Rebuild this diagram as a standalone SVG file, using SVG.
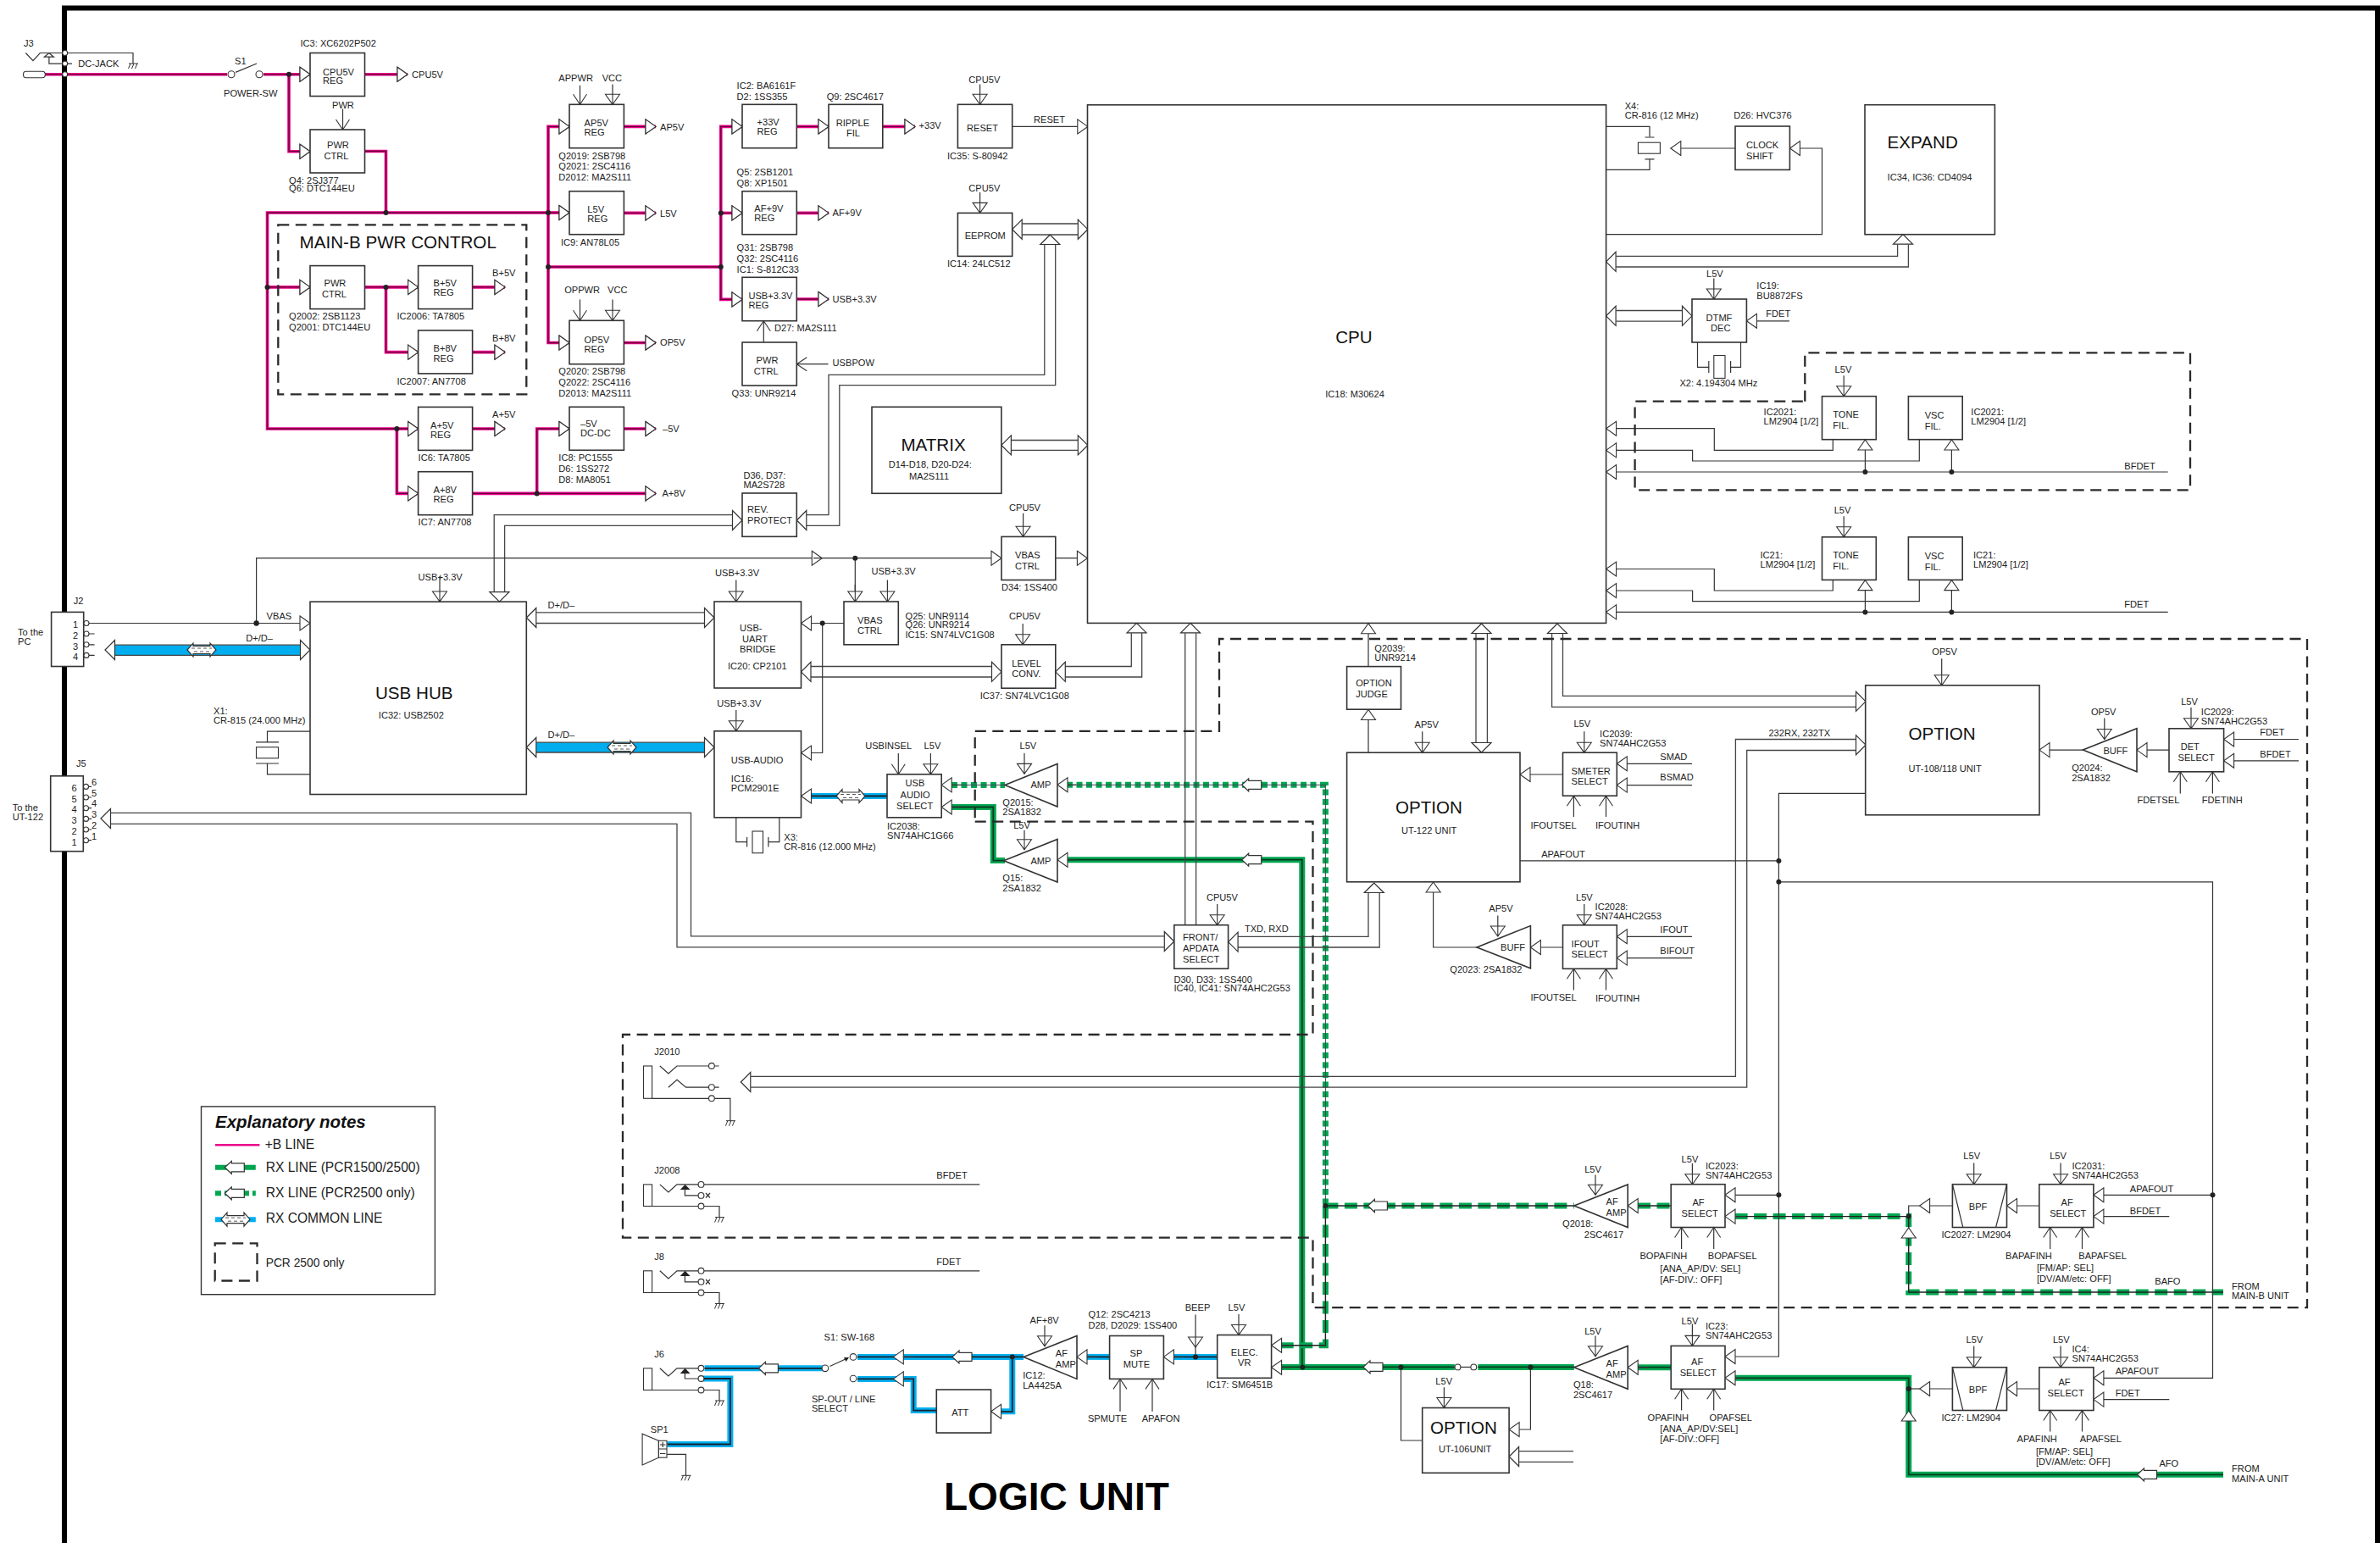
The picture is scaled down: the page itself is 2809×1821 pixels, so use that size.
<svg xmlns="http://www.w3.org/2000/svg" xmlns:xlink="http://www.w3.org/1999/xlink" width="2809" height="1821" viewBox="0 0 2809 1821">
<style>
text{font-family:"Liberation Sans",Arial,Helvetica,sans-serif;font-size:11.1px;fill:#222}
.T{font-size:20.6px;fill:#111}
.L{font-size:15.6px}
.b{fill:#fff;stroke:#333;stroke-width:1.6}
.l,.l path{fill:none;stroke:#333;stroke-width:1.2}
.bus path{fill:none;stroke:#444;stroke-width:1.3}
.c{fill:#fff;stroke:#333;stroke-width:1.1}
.d{fill:#222}
.dash{fill:none;stroke:#2a2a2a;stroke-width:2.3;stroke-dasharray:13 7.5}
.hd{fill:#fff;stroke:#333;stroke-width:1.2}
.under{fill:none}
</style>
<defs>
<marker id="t" markerUnits="userSpaceOnUse" markerWidth="16" markerHeight="22" refX="14" refY="11" orient="auto"><path d="M2,2.5L14,11L2,19.5Z" fill="#fff" stroke="#333" stroke-width="1.1"/></marker>
<marker id="s" markerUnits="userSpaceOnUse" markerWidth="16" markerHeight="22" refX="14" refY="11" orient="auto"><path d="M2,2.5L14,11L2,19.5Z M2,11H14" fill="#fff" stroke="#333" stroke-width="1.1"/></marker>
<marker id="v" markerUnits="userSpaceOnUse" markerWidth="16" markerHeight="22" refX="14" refY="11" orient="auto"><path d="M2,3L14,11L2,19" fill="none" stroke="#333" stroke-width="1.1"/></marker>
<path id="bR" class="hd" d="M0,0L-11.5,-11.5V11.5Z"/>
<path id="bL" class="hd" d="M0,0L11.5,-11.5V11.5Z"/>
<path id="bU" class="hd" d="M0,0L-11.5,11.5H11.5Z"/>
<path id="bD" class="hd" d="M0,0L-11.5,-11.5H11.5Z"/>
<path id="flag" class="hd" d="M0,0L8,-7.5V-5H23V5H8V7.5Z"/>
<g id="dbl"><path class="hd" d="M-17,0L-10,-8V-4.5H10V-8L17,0L10,8V4.5H-10V8Z"/><path fill="none" stroke="#444" stroke-width=".9" stroke-dasharray="4 3" d="M-12,-2H12M-9,2H10"/></g>
<path id="gnd" fill="none" stroke="#333" stroke-width="1" d="M-5,0H6M-5.5,6L-3,0M-1.5,6L1,0M2.5,6L5,0"/>
<g id="crys"><rect x="-13" y="-6.5" width="26" height="13" fill="#fff" stroke="#333" stroke-width="1.1"/></g>
<g id="pk" fill="none">
<path d="M53,87.8H268"/>
<g marker-end="url(#t)">
<path d="M311,87.8H366"/><path d="M341,87.8V178.7H366"/><path d="M430.5,87.8H481"/>
<path d="M647,251H315.5V506H493.6"/><path d="M315.5,338.9H366"/><path d="M430.5,338.9H493.6"/><path d="M455.5,338.9V415.6H493.6"/>
<path d="M557.6,338.9H596"/><path d="M557.6,415.6H596"/><path d="M557.6,506H596"/><path d="M468.4,506V582.4H493.6"/><path d="M557.6,582.4H774"/><path d="M633.7,582.4V506H672"/><path d="M736.4,506H774"/>
<path d="M647,251V149.4H672"/><path d="M647,251V404.5H672"/><path d="M647,251H672"/>
<path d="M736.4,149.4H774"/><path d="M736.4,251.4H774"/><path d="M736.4,404.5H774"/>
<path d="M850.8,315V149.4H876"/><path d="M850.8,315V353.4H876"/><path d="M850.8,251.4H876"/>
<path d="M940.3,149.4H978"/><path d="M1041.8,149.4H1080"/><path d="M940.3,251.4H978"/><path d="M940.3,353H978"/>
</g>
<path d="M430.5,178.5H455.5V251"/><path d="M647,315H850.8"/>
</g>
<g id="gs" fill="none">
<path d="M1123,952.5H1172.3V1015.6H1186"/><path d="M1259,1014.7H1536.8V1613.4"/><path d="M1512,1613.4H1716.8"/><path d="M1744.4,1613.4H1857.8"/><path d="M1933,1613.7H1972.2"/><path d="M2047.6,1626.3H2252.7V1740.3H2624"/>
</g>
<g id="gd1" fill="none"><path d="M1123,926.4H1186"/><path d="M1259,926.3H1564.4V1423"/></g>
<g id="gd2" fill="none"><path d="M1564.4,1423H1857.8"/><path d="M1933,1423H1972.2"/><path d="M2047.6,1435.6H2252.7V1525H2624"/><path d="M1564.4,1423V1587.8H1512"/></g>
<g id="bl" fill="none"><path d="M957.4,939.5H1047"/><path d="M831.6,1614.8H973.9"/><path d="M830,1627H861.9V1704.5H787.5"/><path d="M1012,1601.4H1208"/><path d="M1194.8,1601.4V1665.8H1181.5"/><path d="M1105.3,1664.6H1078.2V1627.4H1012"/><path d="M1283,1601.4H1309.6"/><path d="M1385,1601.4H1436.7"/></g>
</defs>

<rect width="2809" height="1821" fill="#fff"/>
<path id="frame" d="M76,1821V9.5H2806V1821" fill="none" stroke="#000" stroke-width="6"/>

<g id="connectors">
<use href="#pk" stroke="#ec008c" stroke-width="3.6"/>
<use href="#pk" stroke="#6a0038" stroke-width="1.3"/>
<rect x="136" y="761.2" width="218.5" height="12.2" fill="#00aeef"/>
<rect x="632.8" y="876.2" width="198.8" height="11.8" fill="#00aeef"/>
<use href="#bl" stroke="#00aeef" stroke-width="7"/>
<use href="#bl" stroke="#16222e" stroke-width="1.8"/>
<use href="#gs" stroke="#00a651" stroke-width="7"/>
<use href="#gs" stroke="#0a3b22" stroke-width="1.8"/>
<use href="#gd1" stroke="#00a651" stroke-width="7" stroke-dasharray="7 4.5"/>
<use href="#gd1" stroke="#445" stroke-width="1"/>
<use href="#gd2" stroke="#00a651" stroke-width="7" stroke-dasharray="15 7.5"/>
<use href="#gd2" stroke="#222" stroke-width="1.4"/>

<g class="bus">
<path d="M1206,264H1272"/><path d="M1206,277H1272"/>
<path d="M1232.8,288V442.4H978V607.6H951"/><path d="M1245.7,288V454.6H990.8V620.3H951"/>
<path d="M583.2,698.3V607.6H864.5"/><path d="M595.6,698.3V620.3H864.5"/>
<path d="M632.8,722.8H831.5"/><path d="M632.8,735.5H831.5"/>
<path d="M136,761.2H354.5"/><path d="M136,773.4H354.5"/>
<path d="M632.8,876.2H831.5"/><path d="M632.8,888H831.5"/>
<path d="M957,786.5H1170.5"/><path d="M957,799H1170.5"/>
<path d="M1257.3,786.5H1335.3V747.3"/><path d="M1257.3,799H1347.7V747.3"/>
<path d="M1398.7,747.3V1091.7"/><path d="M1411.6,747.3V1091.7"/>
<path d="M130.4,959.3H815.5V1104.8H1374"/><path d="M130.4,972.3H799V1117.8H1374"/>
<path d="M1461,1105.3H1615V1053.5"/><path d="M1461,1118H1628.2V1053.5"/>
<path d="M1742,747.4V876.7"/><path d="M1755.4,747.4V876.7"/>
<path d="M1831.6,747.4V834.4H2190.4"/><path d="M1844.5,747.4V821.4H2190.4"/>
<path d="M2190.4,872.5H2048.4V1270.4H886.2"/><path d="M2190.4,885.5H2061.7V1283.2H886.2"/>
<path d="M1193.4,519.5H1272.3"/><path d="M1193.4,531.3H1272.3"/>
<path d="M1907.5,302.4H2239.6V288.6"/><path d="M1907.5,315H2252.4V288.6"/>
<path d="M1907.5,366.5H1985.5"/><path d="M1907.5,379.2H1985.5"/>
<path d="M1792.6,1712.7H1857"/><path d="M1792.6,1725.3H1857"/>
</g>
<g id="bus-heads">
<use href="#bL" x="1194.7" y="270.7"/><use href="#bR" x="1283.8" y="270.7"/><use href="#bU" x="1239.3" y="277"/>
<use href="#bL" x="940.3" y="614"/><use href="#bR" x="876" y="614"/><use href="#bD" x="589.4" y="710.2"/>
<use href="#bL" x="621.3" y="729"/><use href="#bR" x="843" y="729"/>
<use href="#bL" x="124" y="767"/><use href="#bR" x="366" y="767"/>
<use href="#bL" x="621.3" y="882"/><use href="#bR" x="843" y="882"/>
<use href="#bL" x="945.5" y="792.8"/><use href="#bR" x="1182" y="792.8"/>
<use href="#bL" x="1245.8" y="792.8"/><use href="#bU" x="1341.5" y="735.4"/><use href="#bU" x="1405" y="735.4"/>
<use href="#bL" x="119" y="966"/><use href="#bR" x="1385.8" y="1111"/>
<use href="#bL" x="1449.6" y="1111.6"/><use href="#bU" x="1621.8" y="1042"/>
<use href="#bU" x="1748.5" y="736"/><use href="#bD" x="1748.5" y="888"/>
<use href="#bU" x="1838" y="736"/><use href="#bR" x="2202" y="827.8"/>
<use href="#bR" x="2202" y="879.2"/><use href="#bL" x="874.3" y="1277"/>
<use href="#bL" x="1181.9" y="525.4"/><use href="#bR" x="1283.8" y="525.4"/>
<use href="#bL" x="1895.6" y="308.8"/><use href="#bU" x="2246" y="276.7"/>
<use href="#bL" x="1895.6" y="372.8"/><use href="#bR" x="1997" y="372.8"/>
<use href="#bL" x="1781.1" y="1719"/>
<use href="#flag" x="1465.7" y="926.3"/><use href="#flag" x="1465.7" y="1014.7"/><use href="#flag" x="1614.4" y="1423"/><use href="#flag" x="1609" y="1613.4"/><use href="#flag" x="2522.5" y="1740.3"/>
<use href="#flag" x="895.4" y="1614.8"/><use href="#flag" x="1124" y="1601.4"/>
<use href="#dbl" x="238" y="767"/><use href="#dbl" x="734" y="882"/><use href="#dbl" x="1004" y="939.5"/>
</g>

<g class="l">
<path d="M2099.4,1015.9H1794"/><path d="M2265.6,1423H2252.7V1435.6"/><path d="M2265.6,1639H2252.7"/>
<path d="M1653.5,1613.4V1700H1678.7"/>
<path d="M1411,1590V1601"/>
<path d="M1009.3,658.7V700"/>
<path d="M1720.5,1613.4H1739.3"/>
<path d="M1895.6,149.4H1947V161.3M1941.5,162H1952.5M1941.5,187.8H1952.5M1947,187.8V200.4H1895.6"/>
<path d="M366,863.2H315.5V875.8M302,875.8H329M302,901H329M315.5,901V913.8H366"/>
<path d="M2003.5,404V433.3H2016.8M2016.8,426V440M2042.6,426V440M2042.6,433.3H2054.5V404"/>
<path d="M868.8,964.8V993.7H881.6M881.6,988V999.6M906.9,988V999.6M906.9,993.7H919.8V964.8"/>
<g marker-end="url(#t)">
<path d="M1194.7,149.4H1283.8"/>
<path d="M302.6,735.5V658.7H970.3"/><path d="M960,658.7H1182"/><path d="M1245.8,658.7H1283.4"/>
<path d="M105,735.5H366"/><path d="M996,735.5H945.5"/><path d="M970.7,735.5V888.5H945.5"/>
<path d="M2048,175H1971.8"/><path d="M1895.6,276.7H2150.5V175H2112.4"/>
<path d="M2111.9,378.8H2061.4"/>
<path d="M2163.3,518.7V531.4H2023.3V505.7H1895.6"/><path d="M2265.3,518.7V544H1997.6V531.4H1895.6"/><path d="M2558.7,557H1895.6"/><path d="M2201.4,557V519"/><path d="M2303.4,557V519"/>
<path d="M2163.3,684.4V697H2023.3V671.5H1895.6"/><path d="M2265.3,684.4V709.7H1997.6V697H1895.6"/><path d="M2558.7,722.4H1895.6"/><path d="M2201.4,722.4V684.6"/><path d="M2303.4,722.4V684.6"/>
<path d="M1615,888.2V837.5"/><path d="M1615,786.6V735.8"/>
<path d="M1844.5,914H1794"/><path d="M1997,901.3H1908.3"/><path d="M1997,926.6H1908.3"/>
<path d="M1997,1105.3H1908.3"/><path d="M1997,1130.6H1908.3"/><path d="M1844.5,1118H1806.4"/><path d="M1743,1118H1691.6V1041"/>
<path d="M2201.7,936.3H2099.4V1601H2036"/><path d="M2099.4,1410.3H2036"/><path d="M2099.4,1040.8H2611.5V1626.3H2470.9"/><path d="M2611.5,1410.3H2470.9"/>
<path d="M2458.4,885.1H2407"/><path d="M2560,885.1H2522"/><path d="M2713,872.5H2624.6"/><path d="M2713,897.8H2624.6"/>
<path d="M2304.4,1423H2265.6"/><path d="M2406.8,1423H2368.5"/><path d="M2406.8,1639H2368.5"/><path d="M2304.4,1639H2265.6"/><path d="M2560.3,1435.6H2470.9"/><path d="M2560.3,1651.6H2470.9"/>
<path d="M2252.7,1461V1449"/><path d="M2252.7,1677V1665"/>
<path d="M1806.4,1613.4V1687H1781.1"/>
<path d="M1135,926.4H1111.2"/><path d="M1135,952.5H1111.2"/><path d="M1270,926.3H1248"/><path d="M1270,1014.7H1248"/><path d="M1524,1587.8H1500.6"/><path d="M1524,1613.7H1500.6"/><path d="M1945,1423H1921.2"/><path d="M1945,1613.7H1921.2"/><path d="M2060,1435.6H2036"/><path d="M2060,1626.3H2036"/>
<path d="M1078,1601.4H1054.3"/><path d="M1078,1627.4H1054.3"/><path d="M1194,1665.8H1169.6"/><path d="M1295,1601.4H1271"/><path d="M1397,1601.4H1373.4"/><path d="M970,939.5H945.5"/>
</g>
<g marker-end="url(#s)">
<path d="M723,99.5V123.3"/><path d="M723,353.4V378.3"/><path d="M1156.6,99.5V123.3"/><path d="M1156.6,227V251.4"/><path d="M1207.6,605.7V633.3"/><path d="M868.8,684.5V710"/><path d="M519,680V710"/><path d="M1047.4,684.5V710"/><path d="M1009.3,690V710"/><path d="M868.8,838V862.8"/><path d="M1098.4,888.9V913.8"/><path d="M1207.2,735.9V760.8"/><path d="M1209,888.9V913.4"/><path d="M1209,979.8V1002.7"/><path d="M1436.7,1067V1091.8"/><path d="M1678.7,863.3V888.2"/><path d="M1869.8,863.3V888.2"/><path d="M1869.8,1067V1091.8"/><path d="M1767.8,1080.4V1105"/><path d="M2291.7,777.2V808.8"/><path d="M2483.8,847.5V872.5"/><path d="M2586,834.9V859.8"/><path d="M2022.8,328.5V353"/><path d="M2176.2,443.2V467.7"/><path d="M2176.2,609.3V633.8"/><path d="M1233,1564.2V1588.7"/><path d="M1411,1551.6V1590"/><path d="M1462,1551V1575.5"/><path d="M1883,1386.4V1410.3"/><path d="M1997.4,1373V1397.7"/><path d="M2329.7,1372.4V1397.7"/><path d="M2432.1,1372.4V1397.7"/><path d="M1883,1576.5V1600.7"/><path d="M1997.4,1562.5V1588.4"/><path d="M2329.7,1588.4V1613.7"/><path d="M2432.1,1588.4V1613.7"/><path d="M1704.4,1637.3V1661.5"/>
</g>
<g marker-end="url(#v)">
<path d="M404.5,128.5V153"/><path d="M684.5,100.7V123.3"/><path d="M684.5,353.4V378.3"/><path d="M901.3,404V378.7"/><path d="M977.5,429.7H940.3"/><path d="M1060.3,888.9V913.8"/><path d="M1857.4,964V939.2"/><path d="M1895.5,964V939.2"/><path d="M1857.4,1168.5V1143.3"/><path d="M1895.5,1168.5V1143.3"/><path d="M2573.3,936.5V910.8"/><path d="M2611.4,936.5V910.8"/><path d="M1322,1665.8V1627.4"/><path d="M1360,1665.8V1627.4"/><path d="M1984.6,1474V1448.5"/><path d="M2022.7,1474V1448.5"/><path d="M2419.7,1474V1448.5"/><path d="M2457.5,1474V1448.5"/><path d="M1984.6,1664.5V1639.3"/><path d="M2022.7,1664.5V1639.3"/><path d="M2419.7,1689.5V1664.5"/><path d="M2457.5,1689.5V1664.5"/>
</g>
</g>
<g id="junctions">
<circle class="d" cx="341" cy="87.8" r="3"/><circle class="d" cx="455.5" cy="251" r="3"/><circle class="d" cx="315.5" cy="338.9" r="3"/><circle class="d" cx="455.5" cy="338.9" r="3"/><circle class="d" cx="468.4" cy="506" r="3"/><circle class="d" cx="633.7" cy="582.4" r="3"/><circle class="d" cx="647" cy="251" r="3"/><circle class="d" cx="647" cy="315" r="3"/><circle class="d" cx="850.8" cy="251.4" r="3"/><circle class="d" cx="850.8" cy="315" r="3"/>
<circle class="d" cx="302.6" cy="735.5" r="3.2"/><circle class="d" cx="1009.3" cy="658.7" r="3"/><circle class="d" cx="970.7" cy="735.5" r="3"/>
<circle class="d" cx="2201.4" cy="557" r="3"/><circle class="d" cx="2303.4" cy="557" r="3"/><circle class="d" cx="2201.4" cy="722.4" r="3"/><circle class="d" cx="2303.4" cy="722.4" r="3"/>
<circle class="d" cx="2099.4" cy="1015.9" r="3"/><circle class="d" cx="2099.4" cy="1040.8" r="3"/><circle class="d" cx="2099.4" cy="1410.3" r="3"/><circle class="d" cx="2611.5" cy="1410.3" r="3"/>
<circle class="d" cx="1564.4" cy="1423" r="3"/><circle class="d" cx="2252.7" cy="1435.6" r="3"/><circle class="d" cx="2252.7" cy="1639" r="3"/>
<circle class="d" cx="1537.3" cy="1613.4" r="3"/><circle class="d" cx="1653.5" cy="1613.4" r="3"/><circle class="d" cx="1806.4" cy="1613.4" r="3"/>
<circle class="d" cx="1194.8" cy="1601.4" r="3"/><circle class="d" cx="1411" cy="1601.4" r="3"/>
<circle class="c" cx="1720.5" cy="1613.4" r="3.4"/><circle class="c" cx="1739.3" cy="1613.4" r="3.4"/>
</g>
</g>

<g id="pcr2500-regions">
<rect class="dash" x="328.3" y="265.3" width="293" height="200"/>
<path class="dash" d="M2130.3,473.7V416.3H2585V578.4H1929.6V473.7Z"/>
<path class="dash" d="M1150.7,969.7H1549.5V1221H735V1460.6H1549.5V1543.2H2723V754H1439V862.8H1150.7Z"/>
</g>

<g id="J3">
<path class="l" d="M30.3,62.5L39,71.6L47.3,62.5H157V75M57.9,67.2V75.1H73.5M80,75.1H85M52.3,67.2L57.9,62.5L63.4,67.2Z"/>
<use href="#gnd" x="157" y="75"/>
<rect x="27.5" y="84.2" width="25.8" height="7.5" rx="3.5" class="c"/>
<circle class="c" cx="76.7" cy="62.5" r="3"/><circle class="c" cx="76.7" cy="75.1" r="3"/><circle class="c" cx="76.7" cy="87.8" r="3"/>
<text x="28" y="55.4">J3</text><text x="92.3" y="79.1">DC-JACK</text>
</g>
<g id="S1"><circle class="c" cx="273" cy="87.8" r="4"/><circle class="c" cx="306" cy="87.8" r="4"/><path class="l" d="M278,85.4L303,75"/><text x="277" y="75.5">S1</text><text x="264" y="113.9">POWER-SW</text></g>
<g id="cpu5v-reg"><rect class="b" x="366" y="62.5" width="64.5" height="51"/><text x="381" y="88.6">CPU5V</text><text x="381" y="99">REG</text><text x="354.5" y="55">IC3: XC6202P502</text><text x="486" y="92">CPU5V</text></g>
<g id="pwr-ctrl-1"><rect class="b" x="366" y="153" width="64.5" height="51"/><text x="392" y="128">PWR</text><text x="386" y="175">PWR</text><text x="382.5" y="187.8">CTRL</text><text x="341" y="216.7">Q4: 2SJ377</text><text x="341" y="226.2">Q6: DTC144EU</text></g>
<g id="main-b-title"><text class="T" x="353.6" y="293.4">MAIN-B PWR CONTROL</text></g>
<g id="pwr-ctrl-b"><rect class="b" x="366" y="313.6" width="64.5" height="51"/><text x="382.5" y="338">PWR</text><text x="380" y="351">CTRL</text><text x="341" y="376.8">Q2002: 2SB1123</text><text x="341" y="389.9">Q2001: DTC144EU</text></g>
<g id="b5v-reg"><rect class="b" x="493.6" y="313.6" width="64" height="51"/><text x="511.5" y="338">B+5V</text><text x="511.5" y="348.7">REG</text><text x="581" y="325.8">B+5V</text><text x="468.4" y="376.8">IC2006: TA7805</text></g>
<g id="b8v-reg"><rect class="b" x="493.6" y="389.9" width="64" height="51"/><text x="511.5" y="415">B+8V</text><text x="511.5" y="426.6">REG</text><text x="581" y="402.9">B+8V</text><text x="468.4" y="453.9">IC2007: AN7708</text></g>
<g id="a5v-reg"><rect class="b" x="493.6" y="480.4" width="64" height="51"/><text x="508" y="506">A+5V</text><text x="508" y="516.8">REG</text><text x="581" y="493">A+5V</text><text x="493.6" y="543.7">IC6: TA7805</text></g>
<g id="a8v-reg"><rect class="b" x="493.6" y="556.7" width="64" height="51"/><text x="511.5" y="582">A+8V</text><text x="511.5" y="592.7">REG</text><text x="493.6" y="619.6">IC7: AN7708</text><text x="781.4" y="586.3">A+8V</text></g>
<g id="ap5v-reg"><rect class="b" x="672" y="123.3" width="64.4" height="51.4"/><text x="689.6" y="149">AP5V</text><text x="689.6" y="159.6">REG</text><text x="659.3" y="95.6">APPWR</text><text x="710.7" y="95.6">VCC</text><text x="779" y="153.7">AP5V</text><text x="659.3" y="187.7">Q2019: 2SB798</text><text x="659.3" y="200">Q2021: 2SC4116</text><text x="659.3" y="212.6">D2012: MA2S111</text></g>
<g id="l5v-reg"><rect class="b" x="672" y="225.7" width="64.4" height="51"/><text x="693.3" y="251.4">L5V</text><text x="693.3" y="262">REG</text><text x="779" y="255.7">L5V</text><text x="662" y="289.7">IC9: AN78L05</text></g>
<g id="op5v-reg"><rect class="b" x="672" y="378.3" width="64.4" height="51.4"/><text x="689.6" y="405">OP5V</text><text x="689.6" y="415.9">REG</text><text x="666.2" y="345.9">OPPWR</text><text x="717.1" y="345.9">VCC</text><text x="779" y="408">OP5V</text><text x="659.3" y="441.6">Q2020: 2SB798</text><text x="659.3" y="454.6">Q2022: 2SC4116</text><text x="659.3" y="467.7">D2013: MA2S111</text></g>
<g id="dcdc"><rect class="b" x="672" y="480.3" width="64.4" height="51"/><text x="685" y="503.6">–5V</text><text x="685" y="514.7">DC-DC</text><text x="782" y="510">–5V</text><text x="659.3" y="544">IC8: PC1555</text><text x="659.3" y="557">D6: 1SS272</text><text x="659.3" y="570">D8: MA8051</text></g>
<g id="r33v-reg"><rect class="b" x="876" y="123.3" width="64.3" height="51.4"/><text x="893.5" y="147.8">+33V</text><text x="893.5" y="158.9">REG</text><text x="869.6" y="104.7">IC2: BA6161F</text><text x="869.6" y="117.7">D2: 1SS355</text></g>
<g id="ripple"><rect class="b" x="978" y="123.3" width="63.8" height="51.4"/><text x="986.7" y="149">RIPPLE</text><text x="999" y="160.8">FIL</text><text x="975.7" y="117.7">Q9: 2SC4617</text><text x="1084.5" y="151.7">+33V</text></g>
<g id="af9v-reg"><rect class="b" x="876" y="225.7" width="64.3" height="51"/><text x="890.3" y="250">AF+9V</text><text x="890.3" y="260.9">REG</text><text x="982.6" y="255">AF+9V</text><text x="869.6" y="206.7">Q5: 2SB1201</text><text x="869.6" y="219.7">Q8: XP1501</text></g>
<g id="usb33-reg"><rect class="b" x="876" y="327.3" width="64.3" height="51.4"/><text x="883.4" y="353">USB+3.3V</text><text x="883.4" y="364">REG</text><text x="982.6" y="357">USB+3.3V</text><text x="869.6" y="295.7">Q31: 2SB798</text><text x="869.6" y="308.7">Q32: 2SC4116</text><text x="869.6" y="321.8">IC1: S-812C33</text><text x="914" y="391.3">D27: MA2S111</text></g>
<g id="pwr-ctrl-usb"><rect class="b" x="876" y="404" width="64.3" height="51"/><text x="892.6" y="428.9">PWR</text><text x="889.8" y="442">CTRL</text><text x="982.6" y="431.7">USBPOW</text><text x="863.6" y="467.7">Q33: UNR9214</text></g>
<g id="reset"><rect class="b" x="1130.4" y="123.3" width="64.3" height="51.4"/><text x="1141" y="154.9">RESET</text><text x="1143.3" y="97.6">CPU5V</text><text x="1220" y="145">RESET</text><text x="1118" y="187.7">IC35: S-80942</text></g>
<g id="eeprom"><rect class="b" x="1130.4" y="251.4" width="64.3" height="51"/><text x="1138.7" y="281.8">EEPROM</text><text x="1143.3" y="225.7">CPU5V</text><text x="1118" y="315">IC14: 24LC512</text></g>
<g id="matrix"><rect class="b" x="1029" y="480.3" width="152.9" height="102"/><text class="T" x="1063.4" y="531.7">MATRIX</text><text x="1048.7" y="551.5">D14-D18, D20-D24:</text><text x="1073" y="565.7">MA2S111</text></g>
<g id="rev-protect"><rect class="b" x="876" y="582" width="64.3" height="51.3"/><text x="882" y="604.9">REV.</text><text x="882" y="617.5">PROTECT</text><text x="877.4" y="565">D36, D37:</text><text x="877.4" y="575.6">MA2S728</text></g>
<g id="cpu"><rect class="b" x="1283.5" y="123.8" width="612.1" height="611.6"/><text class="T" x="1598" y="404.6" text-anchor="middle">CPU</text><text x="1599" y="468.5" text-anchor="middle">IC18: M30624</text></g>
<g id="x4"><use href="#crys" x="1946.4" y="174.7"/><text x="1917.7" y="128.5">X4:</text><text x="1917.7" y="139.5">CR-816 (12 MHz)</text></g>
<g id="clock-shift"><rect class="b" x="2048" y="149" width="64.4" height="51.4"/><text x="2061" y="175">CLOCK</text><text x="2061" y="187.8">SHIFT</text><text x="2046.2" y="139.5">D26: HVC376</text></g>
<g id="expand"><rect class="b" x="2201" y="123.7" width="153.4" height="153"/><text class="T" x="2227.6" y="175.1">EXPAND</text><text x="2227.6" y="213">IC34, IC36: CD4094</text></g>
<g id="dtmf"><rect class="b" x="1997" y="353" width="64.4" height="51"/><text x="2013.6" y="379">DTMF</text><text x="2019" y="391">DEC</text><text x="2014" y="327">L5V</text><text x="2073.3" y="340.8">IC19:</text><text x="2073.3" y="353">BU8872FS</text><text x="2084.3" y="374">FDET</text><rect x="2022.8" y="419.5" width="13.2" height="26.9" fill="#fff" stroke="#333" stroke-width="1.1"/><text x="1982.4" y="455.5">X2: 4.194304 MHz</text></g>
<g id="tone-fil-2021"><rect class="b" x="2150.5" y="467.7" width="63.8" height="51"/><text x="2163.3" y="493">TONE</text><text x="2163.3" y="506">FIL.</text><text x="2165.6" y="439.7">L5V</text><text x="2081.6" y="489.5">IC2021:</text><text x="2081.6" y="500.5">LM2904 [1/2]</text></g>
<g id="vsc-fil-2021"><rect class="b" x="2252.4" y="467.7" width="63.8" height="51"/><text x="2271.7" y="493.8">VSC</text><text x="2271.7" y="507.3">FIL.</text><text x="2326.3" y="489.5">IC2021:</text><text x="2326.3" y="500.5">LM2904 [1/2]</text><text x="2507.3" y="553.5">BFDET</text></g>
<g id="tone-fil-21"><rect class="b" x="2150.5" y="633.8" width="63.8" height="50.6"/><text x="2163.3" y="658.7">TONE</text><text x="2163.3" y="671.8">FIL.</text><text x="2164.7" y="606">L5V</text><text x="2077.5" y="658.7">IC21:</text><text x="2077.5" y="669.8">LM2904 [1/2]</text></g>
<g id="vsc-fil-21"><rect class="b" x="2252.4" y="633.8" width="63.8" height="50.6"/><text x="2271.7" y="659.9">VSC</text><text x="2271.7" y="673">FIL.</text><text x="2329" y="658.7">IC21:</text><text x="2329" y="669.8">LM2904 [1/2]</text><text x="2507.3" y="717.2">FDET</text></g>
<g id="J2"><rect class="b" x="60.6" y="722.4" width="38.1" height="64.1"/><text x="86.8" y="713">J2</text><text x="85.9" y="741">1</text><text x="85.9" y="753.6">2</text><text x="85.9" y="766.7">3</text><text x="85.9" y="779">4</text><text x="21" y="750">To the</text><text x="21" y="760.8">PC</text><path class="l" d="M105,748H111.6M105,760.8H111.6M105,773.4H111.6"/><circle class="c" cx="102" cy="735.5" r="3"/><circle class="c" cx="102" cy="748" r="3"/><circle class="c" cx="102" cy="760.8" r="3"/><circle class="c" cx="102" cy="773.4" r="3"/><text x="314.6" y="730.7">VBAS</text><text x="290.2" y="757.2">D+/D–</text></g>
<g id="J5"><rect class="b" x="59.7" y="915.8" width="38.6" height="88.9"/><text x="90" y="905">J5</text><text x="84.5" y="934">6</text><text x="84.5" y="947">5</text><text x="84.5" y="958.5">4</text><text x="84.5" y="971.5">3</text><text x="84.5" y="984.6">2</text><text x="84.5" y="997.6">1</text><text x="14.7" y="956.9">To the</text><text x="14.7" y="968">UT-122</text><path class="l" d="M104,928.4H108M104,941H108M104,953.7H108M104,966.4H108M104,979H108M104,991.7H108"/><circle class="c" cx="101.5" cy="928.4" r="3"/><circle class="c" cx="101.5" cy="941" r="3"/><circle class="c" cx="101.5" cy="953.7" r="3"/><circle class="c" cx="101.5" cy="966.4" r="3"/><circle class="c" cx="101.5" cy="979" r="3"/><circle class="c" cx="101.5" cy="991.7" r="3"/><text x="108" y="926.8">6</text><text x="108" y="939.5">5</text><text x="108" y="952">4</text><text x="108" y="964.8">3</text><text x="108" y="977.8">2</text><text x="108" y="990.5">1</text></g>
<g id="usb-hub"><rect class="b" x="366" y="710.2" width="255.3" height="227.3"/><text class="T" x="443" y="824.8">USB HUB</text><text x="446.8" y="848">IC32: USB2502</text><text x="493.6" y="684.8">USB+3.3V</text><text x="646.5" y="718">D+/D–</text><text x="646.5" y="871">D+/D–</text></g>
<g id="x1"><use href="#crys" x="315.5" y="888.3"/><text x="252" y="842.6">X1:</text><text x="252" y="853.7">CR-815 (24.000 MHz)</text></g>
<g id="usb-uart"><rect class="b" x="843" y="710" width="102.5" height="102"/><text x="873" y="745">USB-</text><text x="876" y="758">UART</text><text x="873" y="769.9">BRIDGE</text><text x="859" y="790">IC20: CP2101</text><text x="844" y="680">USB+3.3V</text></g>
<g id="vbas-ctrl-2"><rect class="b" x="996" y="710" width="64.3" height="50.8"/><text x="1012" y="736">VBAS</text><text x="1012" y="748">CTRL</text><text x="1028.6" y="677.7">USB+3.3V</text><text x="1068.5" y="730.7">Q25: UNR9114</text><text x="1068.5" y="741.4">Q26: UNR9214</text><text x="1068.5" y="752.5">IC15: SN74LVC1G08</text></g>
<g id="vbas-ctrl-1"><rect class="b" x="1182" y="633.4" width="63.8" height="51.1"/><text x="1198" y="658.7">VBAS</text><text x="1198" y="671.8">CTRL</text><text x="1191" y="603.3">CPU5V</text><text x="1182" y="697">D34: 1SS400</text></g>
<g id="level-conv"><rect class="b" x="1182" y="760.8" width="63.8" height="51.4"/><text x="1194.3" y="786.9">LEVEL</text><text x="1194.3" y="799">CONV.</text><text x="1191" y="730.7">CPU5V</text><text x="1156.7" y="824.8">IC37: SN74LVC1G08</text></g>
<g id="usb-audio"><rect class="b" x="843" y="862.8" width="102.5" height="102"/><text x="862.8" y="900.7">USB-AUDIO</text><text x="862.8" y="922.5">IC16:</text><text x="862.8" y="933.6">PCM2901E</text><text x="846.3" y="833.5">USB+3.3V</text><rect x="888" y="981" width="12.5" height="25.7" fill="#fff" stroke="#333" stroke-width="1.1"/><text x="925.3" y="992">X3:</text><text x="925.3" y="1002.7">CR-816 (12.000 MHz)</text></g>
<g id="usb-audio-select"><rect class="b" x="1047" y="913.8" width="64.2" height="51"/><text x="1068.5" y="928.4">USB</text><text x="1062.6" y="941.9">AUDIO</text><text x="1058" y="954.9">SELECT</text><text x="1021.2" y="883.7">USBINSEL</text><text x="1090.6" y="883.7">L5V</text><text x="1047" y="978.6">IC2038:</text><text x="1047" y="989.7">SN74AHC1G66</text></g>
<g id="amp-q2015"><path class="b" d="M1186,926.4L1248,901.5V952Z"/><text x="1216.4" y="930.4">AMP</text><text x="1203.5" y="883.7">L5V</text><text x="1183.3" y="951.3">Q2015:</text><text x="1183.3" y="962.4">2SA1832</text></g>
<g id="amp-q15"><path class="b" d="M1184.7,1015.8L1248,990.5V1041Z"/><text x="1216.4" y="1019.7">AMP</text><text x="1196.2" y="977.8">L5V</text><text x="1183.3" y="1040.3">Q15:</text><text x="1183.3" y="1051.8">2SA1832</text></g>
<g id="front-apdata"><rect class="b" x="1385.8" y="1091.7" width="63.8" height="51.5"/><text x="1396" y="1109.5">FRONT/</text><text x="1396" y="1122.5">APDATA</text><text x="1396" y="1135.6">SELECT</text><text x="1423.9" y="1062.6">CPU5V</text><text x="1468.9" y="1100">TXD, RXD</text><text x="1385.4" y="1159.7">D30, D33: 1SS400</text><text x="1385.4" y="1170.4">IC40, IC41: SN74AHC2G53</text></g>
<g id="option-judge"><rect class="b" x="1589.6" y="786.6" width="63.9" height="50.6"/><text x="1600.2" y="810">OPTION</text><text x="1600.2" y="823">JUDGE</text><text x="1622.3" y="768.8">Q2039:</text><text x="1622.3" y="779.9">UNR9214</text></g>
<g id="option-ut122"><rect class="b" x="1589.6" y="888.2" width="204.4" height="152.6"/><text class="T" x="1647" y="960.2">OPTION</text><text x="1654" y="983.5">UT-122 UNIT</text><text x="1669.5" y="859">AP5V</text><text x="1819.2" y="1011.6">APAFOUT</text></g>
<g id="smeter-select"><rect class="b" x="1844.5" y="888.2" width="63.8" height="51"/><text x="1854.6" y="913.5">SMETER</text><text x="1854.6" y="925.8">SELECT</text><text x="1857.4" y="857.8">L5V</text><text x="1888.1" y="869.6">IC2039:</text><text x="1888.1" y="880.7">SN74AHC2G53</text><text x="1959.3" y="896.5">SMAD</text><text x="1959.3" y="921.4">BSMAD</text><text x="1806.4" y="977.6">IFOUTSEL</text><text x="1883" y="977.6">IFOUTINH</text></g>
<g id="ifout-select"><rect class="b" x="1844.5" y="1091.8" width="63.8" height="51.5"/><text x="1854.6" y="1118">IFOUT</text><text x="1854.6" y="1129.8">SELECT</text><text x="1860" y="1062.6">L5V</text><text x="1882.6" y="1073.7">IC2028:</text><text x="1882.6" y="1084.7">SN74AHC2G53</text><text x="1959.3" y="1100.5">IFOUT</text><text x="1959.3" y="1125.5">BIFOUT</text><text x="1806.4" y="1180.8">IFOUTSEL</text><text x="1883" y="1181.6">IFOUTINH</text></g>
<g id="buff-q2023"><path class="b" d="M1743,1118L1806.4,1092.6V1142.8Z"/><text x="1771" y="1121.5">BUFF</text><text x="1757.3" y="1075.6">AP5V</text><text x="1711.3" y="1147.6">Q2023: 2SA1832</text></g>
<g id="option-ut108"><rect class="b" x="2201.7" y="808.8" width="205.3" height="153"/><text class="T" x="2252.6" y="873">OPTION</text><text x="2252.6" y="910.8">UT-108/118 UNIT</text><text x="2280.3" y="772.8">OP5V</text><text x="2087.4" y="869.2">232RX, 232TX</text></g>
<g id="buff-q2024"><path class="b" d="M2458.4,885.1L2522,859.8V910.8Z"/><text x="2482.4" y="889.5">BUFF</text><text x="2467.9" y="844">OP5V</text><text x="2445.2" y="910.4">Q2024:</text><text x="2445.2" y="921.9">2SA1832</text></g>
<g id="det-select"><rect class="b" x="2560" y="859.8" width="64.6" height="51"/><text x="2573.7" y="884.7">DET</text><text x="2570.5" y="898.2">SELECT</text><text x="2574.2" y="831.7">L5V</text><text x="2597.8" y="843.6">IC2029:</text><text x="2597.8" y="854.7">SN74AHC2G53</text><text x="2667.3" y="867.7">FDET</text><text x="2667.3" y="893.8">BFDET</text><text x="2522.4" y="948.4">FDETSEL</text><text x="2598.7" y="948.4">FDETINH</text></g>
<g id="J2010"><text x="772.3" y="1245">J2010</text><rect class="c" x="759.5" y="1258" width="10.1" height="38.3"/><path class="l" d="M778.8,1258L788.9,1267L799,1258H848.6M788.9,1283.2L799,1274.4L809.5,1283.2H848.6M769.6,1296.3H861.9V1322.7"/><use href="#gnd" x="861.9" y="1322.7"/><circle class="c" cx="839.9" cy="1258" r="3.4"/><circle class="c" cx="839.9" cy="1283.2" r="3.4"/><circle class="c" cx="839.9" cy="1296.3" r="3.4"/></g>
<g id="J2008"><text x="772.3" y="1384.8">J2008</text><rect class="c" x="759.5" y="1397.9" width="10.1" height="25.6"/><path class="l" d="M778.8,1397.9L788.9,1407L799,1397.9H1156.2M808.4,1404V1410.9H827M769.6,1423.5H849V1436.6M833,1408L838,1413.5M838,1408L833,1413.5"/><path d="M802.7,1404H814.6L808.6,1397.9Z" fill="#222"/><use href="#gnd" x="849" y="1436.6"/><circle class="c" cx="827.5" cy="1397.9" r="3.4"/><circle class="c" cx="827.5" cy="1410.9" r="3.4"/><circle class="c" cx="827.5" cy="1423.5" r="3.4"/><text x="1105.3" y="1390.6">BFDET</text></g>
<g id="J8"><text x="772.3" y="1487.2">J8</text><rect class="c" x="759.5" y="1499.8" width="10.1" height="25.7"/><path class="l" d="M778.8,1499.8L788.9,1509L799,1499.8H1156.2M808.4,1506V1512.8H827M769.6,1525.5H849V1538.5M833,1510L838,1515.5M838,1510L833,1515.5"/><path d="M802.7,1506H814.6L808.6,1499.8Z" fill="#222"/><use href="#gnd" x="849" y="1538.5"/><circle class="c" cx="827.5" cy="1499.8" r="3.4"/><circle class="c" cx="827.5" cy="1512.8" r="3.4"/><circle class="c" cx="827.5" cy="1525.5" r="3.4"/><text x="1105.3" y="1492.9">FDET</text></g>
<g id="J6"><text x="772.3" y="1601.8">J6</text><rect class="c" x="759.5" y="1614.8" width="10.1" height="25.7"/><path class="l" d="M778.8,1614.8L788.9,1624L799,1614.8H827M808.4,1621V1627H827M769.6,1640.5H849V1653"/><path d="M802.7,1621H814.6L808.6,1614.8Z" fill="#222"/><use href="#gnd" x="849" y="1653"/><circle class="c" cx="827.5" cy="1614.8" r="3.4"/><circle class="c" cx="827.5" cy="1627" r="3.4"/><circle class="c" cx="827.5" cy="1640.5" r="3.4"/></g>
<g id="SP1"><text x="767.8" y="1690.7">SP1</text><path class="c" d="M777.4,1700.3L758.1,1692.2V1729L777.4,1720.2Z"/><rect class="c" x="777.4" y="1700.3" width="9.6" height="19.9"/><path class="l" d="M777.4,1710H787M779,1705H785.5M782.2,1702V1708M779,1715.5H785.5M787,1716.4H809.5V1741.3"/><use href="#gnd" x="809.5" y="1741.3"/></g>
<g id="S1-sw"><circle class="c" cx="973.9" cy="1614.8" r="3.8"/><circle class="c" cx="1007" cy="1601.4" r="3.8"/><circle class="c" cx="1007" cy="1627" r="3.8"/><path class="l" d="M979.4,1612.5L1001,1602.5"/><path d="M1002,1602L996,1602L998.5,1607Z" fill="#222"/><text x="972.6" y="1581.5">S1: SW-168</text><text x="957.9" y="1654.7">SP-OUT / LINE</text><text x="957.9" y="1665.8">SELECT</text></g>
<g id="att"><rect class="b" x="1105.3" y="1640" width="64.3" height="51"/><text x="1123.2" y="1670.8">ATT</text></g>
<g id="af-amp-ic12"><path class="b" d="M1208,1601.4L1271,1576.5V1627.4Z"/><text x="1245.8" y="1600.6">AF</text><text x="1245.8" y="1613.6">AMP</text><text x="1215.5" y="1561.9">AF+8V</text><text x="1207.2" y="1626.7">IC12:</text><text x="1207.2" y="1638.6">LA4425A</text></g>
<g id="sp-mute"><rect class="b" x="1309.6" y="1576.5" width="63.8" height="50.9"/><text x="1333.5" y="1600.6">SP</text><text x="1325.7" y="1613.6">MUTE</text><text x="1284.4" y="1555.4">Q12: 2SC4213</text><text x="1284.4" y="1568.4">D28, D2029: 1SS400</text><text x="1283.9" y="1677.7">SPMUTE</text><text x="1347.7" y="1677.7">APAFON</text><text x="1398.7" y="1547.3">BEEP</text></g>
<g id="elec-vr"><rect class="b" x="1436.7" y="1575.5" width="63.9" height="50.8"/><text x="1452.8" y="1599.7">ELEC.</text><text x="1461" y="1612.4">VR</text><text x="1449.6" y="1546.6">L5V</text><text x="1423.9" y="1638.3">IC17: SM6451B</text></g>
<g id="option-ut106"><rect class="b" x="1678.7" y="1661.5" width="102.4" height="76.8"/><text class="T" x="1688" y="1692">OPTION</text><text x="1698" y="1714.4">UT-106UNIT</text><text x="1694.3" y="1634">L5V</text></g>
<g id="af-amp-q18"><path class="b" d="M1857.8,1613.7L1921.2,1588.4V1639.3Z"/><text x="1895.5" y="1613">AF</text><text x="1895.5" y="1625.7">AMP</text><text x="1870.2" y="1574.8">L5V</text><text x="1856.9" y="1638">Q18:</text><text x="1856.9" y="1649.6">2SC4617</text></g>
<g id="af-select-ic23"><rect class="b" x="1972.2" y="1588.4" width="63.8" height="50.9"/><text x="1996" y="1611.4">AF</text><text x="1982.7" y="1624">SELECT</text><text x="1984.6" y="1562.5">L5V</text><text x="2013" y="1568.5">IC23:</text><text x="2013" y="1579.5">SN74AHC2G53</text><text x="1944.6" y="1676.5">OPAFINH</text><text x="2017.6" y="1676.5">OPAFSEL</text><text x="1959.3" y="1689.5">[ANA_AP/DV:SEL]</text><text x="1959.3" y="1702.4">[AF-DIV.:OFF]</text></g>
<g id="af-amp-q2018"><path class="b" d="M1857.8,1423L1921.2,1398V1448.5Z"/><text x="1895.5" y="1422.3">AF</text><text x="1895.5" y="1434.6">AMP</text><text x="1870.2" y="1384">L5V</text><text x="1844" y="1447.9">Q2018:</text><text x="1869.8" y="1461.2">2SC4617</text></g>
<g id="af-select-ic2023"><rect class="b" x="1972.2" y="1397.7" width="63.8" height="50.8"/><text x="1997.4" y="1423">AF</text><text x="1984.6" y="1435.6">SELECT</text><text x="1984.6" y="1372.4">L5V</text><text x="2013" y="1379.8">IC2023:</text><text x="2013" y="1391.4">SN74AHC2G53</text><text x="1935.4" y="1486">BOPAFINH</text><text x="2015.8" y="1486">BOPAFSEL</text><text x="1959.3" y="1501">[ANA_AP/DV: SEL]</text><text x="1959.3" y="1514">[AF-DIV.: OFF]</text></g>
<g id="bpf-ic2027"><rect class="b" x="2304.4" y="1397.7" width="64.1" height="50.8"/><path class="l" d="M2304.4,1397.7L2316.8,1448.5M2368.5,1397.7L2355.6,1448.5"/><text x="2323.8" y="1428">BPF</text><text x="2317.3" y="1368">L5V</text><text x="2291.5" y="1460.8">IC2027: LM2904</text></g>
<g id="af-select-ic2031"><rect class="b" x="2406.8" y="1397.7" width="64.1" height="50.8"/><text x="2432.6" y="1423">AF</text><text x="2419.2" y="1435.6">SELECT</text><text x="2419.2" y="1368">L5V</text><text x="2445.5" y="1379.8">IC2031:</text><text x="2445.5" y="1391.4">SN74AHC2G53</text><text x="2513.8" y="1407">APAFOUT</text><text x="2513.8" y="1433">BFDET</text><text x="2367.1" y="1486">BAPAFINH</text><text x="2453.3" y="1486">BAPAFSEL</text><text x="2404" y="1500">[FM/AP: SEL]</text><text x="2404" y="1513">[DV/AM/etc: OFF]</text><text x="2543.3" y="1516">BAFO</text><text x="2634.1" y="1521.6">FROM</text><text x="2634.1" y="1532.6">MAIN-B UNIT</text></g>
<g id="bpf-ic27"><rect class="b" x="2304.4" y="1613.7" width="64.1" height="50.8"/><path class="l" d="M2304.4,1613.7L2316.8,1664.5M2368.5,1613.7L2355.6,1664.5"/><text x="2323.8" y="1644.3">BPF</text><text x="2320.5" y="1584.5">L5V</text><text x="2291.5" y="1676.5">IC27: LM2904</text></g>
<g id="af-select-ic4"><rect class="b" x="2406.8" y="1613.7" width="64.1" height="50.8"/><text x="2429.4" y="1635.3">AF</text><text x="2416.5" y="1648.3">SELECT</text><text x="2422.9" y="1584.5">L5V</text><text x="2445.5" y="1595.7">IC4:</text><text x="2445.5" y="1607.4">SN74AHC2G53</text><text x="2496.7" y="1622.3">APAFOUT</text><text x="2496.7" y="1647.6">FDET</text><text x="2380.5" y="1702">APAFINH</text><text x="2454.7" y="1702">APAFSEL</text><text x="2403" y="1717">[FM/AP: SEL]</text><text x="2403" y="1729.3">[DV/AM/etc: OFF]</text><text x="2548.4" y="1731.3">AFO</text><text x="2634.1" y="1737.3">FROM</text><text x="2634.1" y="1748.6">MAIN-A UNIT</text></g>
<g id="legend"><rect x="237.5" y="1305.9" width="275.9" height="221.8" fill="#fff" stroke="#333" stroke-width="1.4"/>
<text x="254" y="1331.4" style="font-size:20.5px;font-weight:bold;font-style:italic;fill:#111">Explanatory notes</text>
<path d="M254,1351.3H306.4" stroke="#ec008c" stroke-width="2.4" fill="none"/><text class="L" x="312.7" y="1355.6">+B LINE</text>
<path d="M254,1377.8H301.8" stroke="#00a651" stroke-width="6" fill="none"/><use href="#flag" x="265.3" y="1377.8"/><text class="L" x="313.7" y="1382.8">RX LINE (PCR1500/2500)</text>
<path d="M254,1408.3H301.8" stroke="#00a651" stroke-width="6" stroke-dasharray="7 4" fill="none"/><use href="#flag" x="265.3" y="1408.3"/><text class="L" x="313.7" y="1412.6">RX LINE (PCR2500 only)</text>
<path d="M254,1439.2H301.8" stroke="#00aeef" stroke-width="6" fill="none"/><use href="#dbl" x="278" y="1439.2"/><text class="L" x="313.7" y="1443.1">RX COMMON LINE</text>
<rect class="dash" x="253.7" y="1467.4" width="49.8" height="44.1"/><text x="313.7" y="1494.5" style="font-size:13.8px">PCR 2500 only</text></g>
<g id="title"><text x="1114" y="1781.5" style="font-size:46px;font-weight:bold;fill:#000">LOGIC UNIT</text></g>
</svg>
